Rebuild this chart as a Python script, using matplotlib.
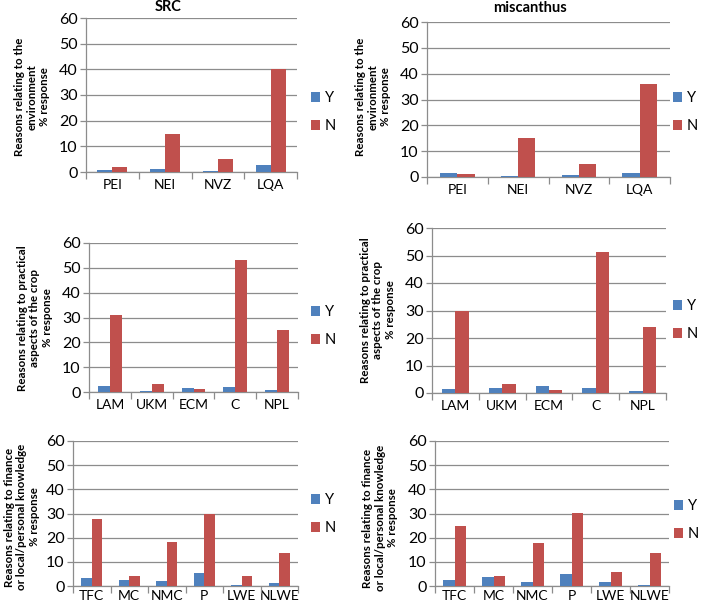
import numpy as np
import matplotlib
matplotlib.use("Agg")
from matplotlib import pyplot as plt

plt.rcParams['font.family'] = ['Lato', 'DejaVu Sans']

# categories
env_cats = ['PEI', 'NEI', 'NVZ', 'LQA']
prac_cats = ['LAM', 'UKM', 'ECM', 'C', 'NPL']
fin_cats = ['TFC', 'MC', 'NMC', 'P', 'LWE', 'NLWE']

# SRC values (% response)
src_env_y = [0.7, 1.2, 0.3, 2.8]
src_env_n = [2.0, 14.7, 5.0, 40.0]
src_prac_y = [2.3, 0.3, 1.5, 2.0, 0.7]
src_prac_n = [31.0, 3.2, 1.2, 53.0, 25.0]
src_fin_y = [3.2, 2.3, 2.0, 5.3, 0.6, 1.1]
src_fin_n = [27.8, 4.0, 18.4, 29.6, 4.0, 13.5]

# miscanthus values (% response)
mis_env_y = [1.5, 0.4, 0.8, 1.6]
mis_env_n = [1.2, 15.2, 5.0, 36.0]
mis_prac_y = [1.5, 2.0, 2.4, 2.0, 0.7]
mis_prac_n = [30.0, 3.3, 1.2, 51.2, 24.0]
mis_fin_y = [2.4, 3.6, 1.5, 4.8, 1.5, 0.3]
mis_fin_n = [25.0, 4.0, 18.0, 30.3, 6.0, 13.5]

ylab_env = 'Reasons relating to the\nenvironment\n% response'
ylab_prac = 'Reasons relating to practical\naspects of the crop\n% response'
ylab_fin = 'Reasons relating to finance\nor local/personal knowledge\n% response'

W, H = 701, 606
BLUE = '#4F81BD'
RED = '#C0504D'
GRID = '#8C8C8C'

fig = plt.figure(figsize=(W / 100, H / 100), dpi=100)


def px(x, y):
    return x / W, 1 - y / H


def panel(box, cats, yv, nv, ylabel, lab_xy, leg_xy, title=None, title_xy=None,
          xpad=5):
    x0, x1, y0, y1 = box
    ax = fig.add_axes([x0 / W, 1 - y1 / H, (x1 - x0) / W, (y1 - y0) / H])
    n = len(cats)
    x = np.arange(n)
    w = 0.286
    ax.bar(x - w / 2, yv, w, color=BLUE, label='Y', zorder=3)
    ax.bar(x + w / 2, nv, w, color=RED, label='N', zorder=3)
    ax.set_xlim(-0.5, n - 0.5)
    ax.set_ylim(0, 60)
    ax.set_yticks(range(0, 61, 10))
    ax.yaxis.grid(True, color=GRID, linewidth=0.9, zorder=0)
    ax.set_xticks(x)
    ax.set_xticklabels(cats)
    ax.set_xticks(np.arange(-0.5, n, 1.0), minor=True)
    ax.tick_params(axis='x', which='major', length=0, labelsize=10, pad=xpad)
    ax.tick_params(axis='x', which='minor', length=5, color=GRID, width=0.9)
    ax.tick_params(axis='y', length=4, color=GRID, width=0.9, labelsize=11.5, pad=2)
    for s in ['top', 'right']:
        ax.spines[s].set_visible(False)
    for s in ['left', 'bottom']:
        ax.spines[s].set_color(GRID)
        ax.spines[s].set_linewidth(0.9)
    lx, ly = px(*lab_xy)
    fig.text(lx, ly, ylabel, rotation=90, ha='center', va='center',
             fontsize=8.3, fontweight='bold', linespacing=1.2)
    ax.legend(loc='center left', bbox_to_anchor=px(*leg_xy),
              bbox_transform=fig.transFigure, frameon=False, fontsize=10.5,
              handlelength=0.65, handleheight=0.65, handletextpad=0.3,
              labelspacing=0.95, borderaxespad=0, borderpad=0)
    if title:
        tx, ty = px(*title_xy)
        fig.text(tx, ty, title, ha='center', va='center', fontsize=10.5,
                 fontweight='bold')
    return ax


panel((86, 297, 18, 172), env_cats, src_env_y, src_env_n, ylab_env,
      (32, 97), (311, 112), 'SRC', (168, 7))
panel((427, 670, 22, 177), env_cats, mis_env_y, mis_env_n, ylab_env,
      (373, 97), (673, 112), 'miscanthus', (530, 8))
panel((89, 298, 243, 392), prac_cats, src_prac_y, src_prac_n, ylab_prac,
      (35, 318), (311, 326))
panel((432, 666, 228, 393), prac_cats, mis_prac_y, mis_prac_n, ylab_prac,
      (378, 310), (673, 320))
panel((73, 298, 441, 586), fin_cats, src_fin_y, src_fin_n, ylab_fin,
      (22, 517), (311, 514), xpad=3)
panel((435, 669, 441, 586), fin_cats, mis_fin_y, mis_fin_n, ylab_fin,
      (380, 518), (674, 520), xpad=3)

fig.savefig('out.png', dpi=100)
